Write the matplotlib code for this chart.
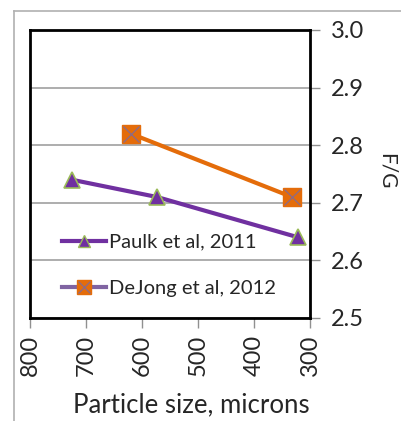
import matplotlib.pyplot as plt
from matplotlib.lines import Line2D

# Data
paulk_size = [725, 573, 321]
paulk_fg = [2.74, 2.71, 2.64]
dejong_size = [620, 332]
dejong_fg = [2.82, 2.71]

x_ticks = [800, 700, 600, 500, 400, 300]
y_ticks = [2.5, 2.6, 2.7, 2.8, 2.9, 3.0]

purple = '#7030A0'
orange = '#E46C0A'
green_edge = '#9BBB59'
txt = '#262626'

plt.rcParams['font.family'] = ['Lato', 'DejaVu Sans']

fig = plt.figure(figsize=(4.02, 4.21), dpi=100)
ax = fig.add_axes([30 / 402, 1 - 318 / 421, 280 / 402, 288 / 421])

# outer chart frame (grey, left + top)
fig.add_artist(Line2D([14 / 402, 14 / 402], [0, 1 - 11 / 421], color='#b0b0b0', lw=1.2))
fig.add_artist(Line2D([14 / 402, 1], [1 - 11 / 421, 1 - 11 / 421], color='#b0b0b0', lw=1.2))

ax.plot(paulk_size, paulk_fg, color=purple, lw=3, marker='^', ms=11,
        markerfacecolor=purple, markeredgecolor=green_edge, markeredgewidth=1.2, zorder=3)
ax.plot(dejong_size, dejong_fg, color=orange, lw=3, marker='s', ms=13,
        markerfacecolor=orange, markeredgecolor=orange, zorder=3)
ax.plot(dejong_size, dejong_fg, ls='none', marker='x', ms=12,
        markeredgecolor='#8a6a8a', markeredgewidth=0.9, zorder=4)

ax.set_xlim(800, 300)
ax.set_ylim(2.5, 3.0)
ax.set_xticks(x_ticks)
ax.set_xticklabels([str(v) for v in x_ticks], rotation=90, fontsize=17, color=txt)
ax.set_yticks(y_ticks)
ax.set_yticklabels([f'{v:.1f}' for v in y_ticks], fontsize=17, color=txt)
ax.yaxis.tick_right()
ax.yaxis.set_label_position('right')
ax.tick_params(axis='both', direction='out', length=7, color='#909090', width=1, pad=5)
ax.tick_params(axis='y', pad=8)

ax.grid(axis='y', color='#a0a0a0', lw=1.2)
ax.set_axisbelow(True)
for s in ax.spines.values():
    s.set_color('black')
    s.set_linewidth(2)

ax.set_xlabel('Particle size, microns', fontsize=18.5, color=txt, va='center')
ax.xaxis.set_label_coords(0.575, -0.30)
ax.set_ylabel('F/G', fontsize=15, rotation=270, color=txt, va='center')
ax.yaxis.set_label_coords(1.275, 0.51)

handles = [
    Line2D([], [], color=purple, lw=3, marker='^', ms=9, markerfacecolor=purple,
           markeredgecolor=green_edge),
    (Line2D([], [], color='#8064A2', lw=3, marker='s', ms=10, markerfacecolor=orange,
            markeredgecolor=orange),
     Line2D([], [], ls='none', marker='x', ms=9, markeredgecolor='#8a6a8a', markeredgewidth=0.9)),
]
ax.legend(handles, ['Paulk et al, 2011', 'DeJong et al, 2012'], loc='lower left',
          bbox_to_anchor=(0.05, 0.01), frameon=False, fontsize=14.5,
          handlelength=2.2, handletextpad=0.15, labelspacing=1.45)
for t in ax.get_legend().get_texts():
    t.set_color(txt)

fig.savefig('out.png', dpi=100)
